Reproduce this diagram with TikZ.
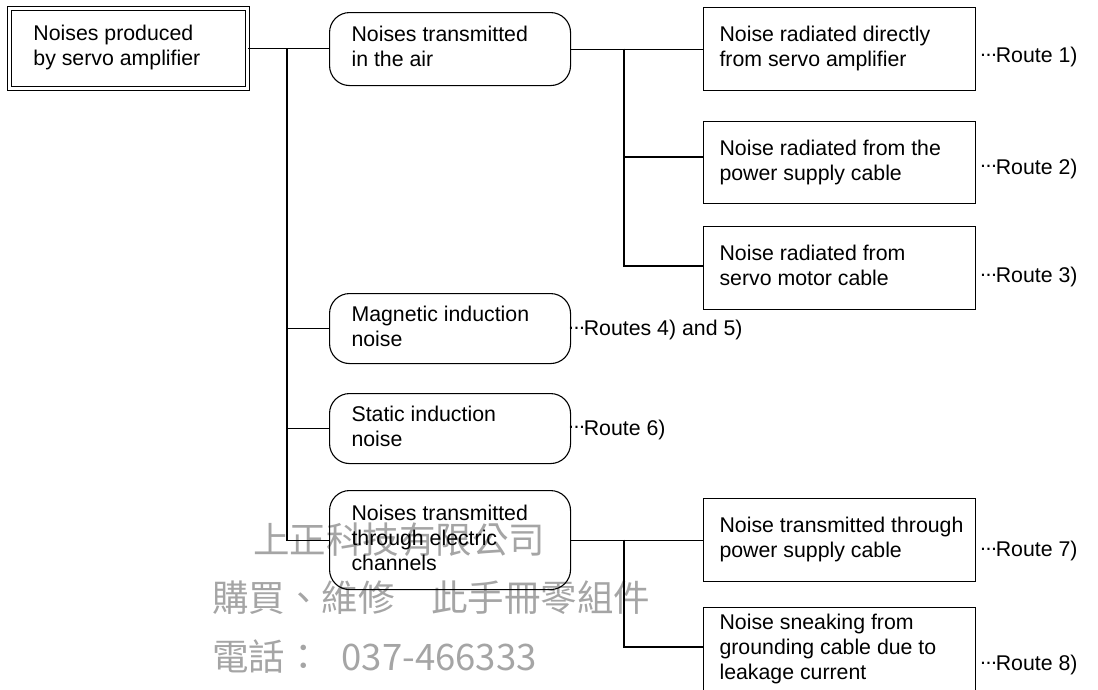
\documentclass[tikz,border=0pt]{standalone}
\usepackage{fontspec}
\setmainfont{Liberation Sans}
\newfontfamily\cjk{Noto Sans CJK TC}
\newcommand\tb[2]{\makebox[#1][l]{\begin{tabular}{@{}l@{}}#2\end{tabular}}}
\newcommand\rdots{\raisebox{0.3em}{.\kern-0.02em.\kern-0.02em.}\kern-0.06em}
\definecolor{wm}{RGB}{165,165,165}
\begin{document}
\begin{tikzpicture}[x=1pt,y=-1pt,
  every node/.style={font=\fontsize{21.3}{25}\selectfont, inner ysep=0pt},
  dbl/.style={draw, double, double distance=2.4pt, line width=0.9pt, anchor=north west, inner xsep=24pt, minimum height=#1},
  sq/.style={draw, line width=1.1pt, anchor=north west, inner xsep=16pt, minimum height=#1},
  rnd/.style={draw, line width=1.1pt, rounded corners=20pt, anchor=north west, inner xsep=22pt, minimum height=#1},
  route/.style={anchor=base west, inner sep=0pt},
  wmark/.style={anchor=west, inner sep=0pt, text=wm, font=\cjk\fontsize{36.5}{40}\selectfont},
  conn/.style={line width=1.1pt}
]
\useasboundingbox (0,0) rectangle (1098,689);
% watermark
\node[wmark] (w1) at (253,540) {上正科技有限公司};
\node[wmark] (w2) at (212,598) {購買、維修　此手冊零組件};
\node[wmark] (w3) at (212,657) {電話：\hspace{20pt}037-466333};

% boxes
\node[dbl=80] (src) at (9,8) {\tb{190pt}{Noises produced\\by servo amplifier}};
\node[rnd=73] (air) at (329,12) {\tb{197pt}{Noises transmitted\\in the air}};
\node[rnd=70] (mag) at (329,293) {\tb{197pt}{Magnetic induction\\noise}};
\node[rnd=70] (sta) at (329,393) {\tb{197pt}{Static induction\\noise}};
\node[rnd=99] (ele) at (329,490) {\tb{197pt}{Noises transmitted\\through electric\\channels}};

\node[sq=83] (r1) at (703,7) {\tb{240pt}{Noise radiated directly\\from servo amplifier}};
\node[sq=82] (r2) at (703,121) {\tb{240pt}{Noise radiated from the\\power supply cable}};
\node[sq=83] (r3) at (703,226) {\tb{240pt}{Noise radiated from\\servo motor cable}};
\node[sq=83] (r7) at (703,498) {\tb{240pt}{Noise transmitted through\\power supply cable}};
\node[sq=84] (r8) at (703,607) {\tb{240pt}{Noise sneaking from\\grounding cable due to\\leakage current}};

% route labels
\node[route] (t1) at (980,62.6) {\rdots Route 1)};
\node[route] (t2) at (980,174) {\rdots Route 2)};
\node[route] (t3) at (980,282.6) {\rdots Route 3)};
\node[route] (t45) at (568,335.6) {\rdots Routes 4) and 5)};
\node[route] (t6) at (568,435) {\rdots Route 6)};
\node[route] (t7) at (980,556.6) {\rdots Route 7)};
\node[route] (t8) at (980,670.6) {\rdots Route 8)};

% connectors
\coordinate (j0) at (287,48);
\draw[conn] (src.east) -- (src.east -| air.west);
\draw[conn] (j0) |- (ele.west);
\draw[conn] (j0 |- mag.west) -- (mag.west);
\draw[conn] (j0 |- sta.west) -- (sta.west);

\coordinate (j1) at (624,48.5);
\coordinate (k2) at (624,157);
\coordinate (k3) at (624,266);
\draw[conn] (air.east) -- (r1.west);
\draw[conn] (j1) -- (k3) -- (k3 -| r3.west);
\draw[conn] (k2) -- (k2 -| r2.west);

\coordinate (j2) at (624,539.5);
\coordinate (k8) at (624,647);
\draw[conn] (ele.east) -- (r7.west);
\draw[conn] (j2) -- (k8) -- (k8 -| r8.west);
\end{tikzpicture}
\end{document}
